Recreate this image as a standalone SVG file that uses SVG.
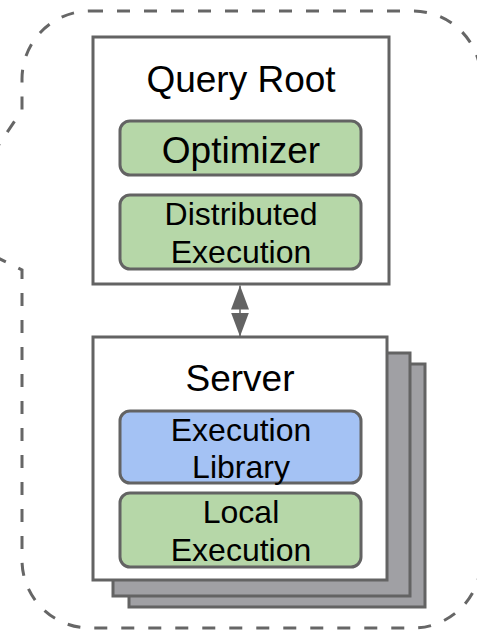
<svg xmlns="http://www.w3.org/2000/svg" width="477" height="631" viewBox="0 0 477 631">
  <defs>
    <style>
      .outline { fill: none; stroke: #666666; stroke-width: 3; stroke-dasharray: 13 14; }
      .box { fill: #ffffff; stroke: #636363; stroke-width: 3; }
      .stack { fill: #a0a0a4; stroke: #636363; stroke-width: 3; }
      .green { fill: #b6d7a8; stroke: #636363; stroke-width: 3; }
      .blue { fill: #a4c2f4; stroke: #636363; stroke-width: 3; }
      .t { font-family: "Liberation Sans", Arial, sans-serif; fill: #000000; text-anchor: middle; }
      .big { font-size: 37px; }
      .mid { font-size: 32px; }
      .conn { stroke: #636363; stroke-width: 1.5; fill: none; }
    </style>
    <marker id="ah" markerUnits="userSpaceOnUse" markerWidth="24" markerHeight="18" refX="24" refY="9" orient="auto-start-reverse" viewBox="0 0 24 18">
      <path d="M0,0 L24,9 L0,18 Z" fill="#636363"/>
    </marker>
  </defs>

  <g id="cluster">
    <path class="outline" d="M 90 11 L 413 11 A 68 68 0 0 1 481 79 L 481 560 A 68 68 0 0 1 413 628 L 90 628 A 68 68 0 0 1 22 560 L 22 270 L -58 230 L 22 110 L 22 79 A 68 68 0 0 1 90 11 Z"/>
  </g>

  <g id="query-root">
    <rect class="box" x="93" y="37" width="296" height="247"/>
    <text class="t big" x="241" y="92">Query Root</text>
  </g>

  <g id="optimizer">
    <rect class="green" x="120" y="121" width="241" height="54" rx="10"/>
    <text class="t big" x="241" y="163">Optimizer</text>
  </g>

  <g id="distributed-execution">
    <rect class="green" x="120" y="195" width="241" height="74" rx="10"/>
    <text class="t mid" x="241" y="225">Distributed</text>
    <text class="t mid" x="241" y="263">Execution</text>
  </g>

  <g id="server">
    <rect class="stack" x="129" y="364" width="296" height="243"/>
    <rect class="stack" x="113" y="353" width="297" height="243"/>
    <rect class="box" x="93" y="337" width="294" height="243"/>
    <text class="t big" x="240" y="391">Server</text>
  </g>

  <g id="execution-library">
    <rect class="blue" x="120" y="411" width="241" height="72" rx="10"/>
    <text class="t mid" x="241" y="441">Execution</text>
    <text class="t mid" x="241" y="478">Library</text>
  </g>

  <g id="local-execution">
    <rect class="green" x="120" y="493" width="241" height="74" rx="10"/>
    <text class="t mid" x="241" y="523">Local</text>
    <text class="t mid" x="241" y="561">Execution</text>
  </g>

  <g id="connectors">
    <line class="conn" x1="240" y1="285.5" x2="240" y2="336.5" marker-start="url(#ah)" marker-end="url(#ah)"/>
  </g>
</svg>
